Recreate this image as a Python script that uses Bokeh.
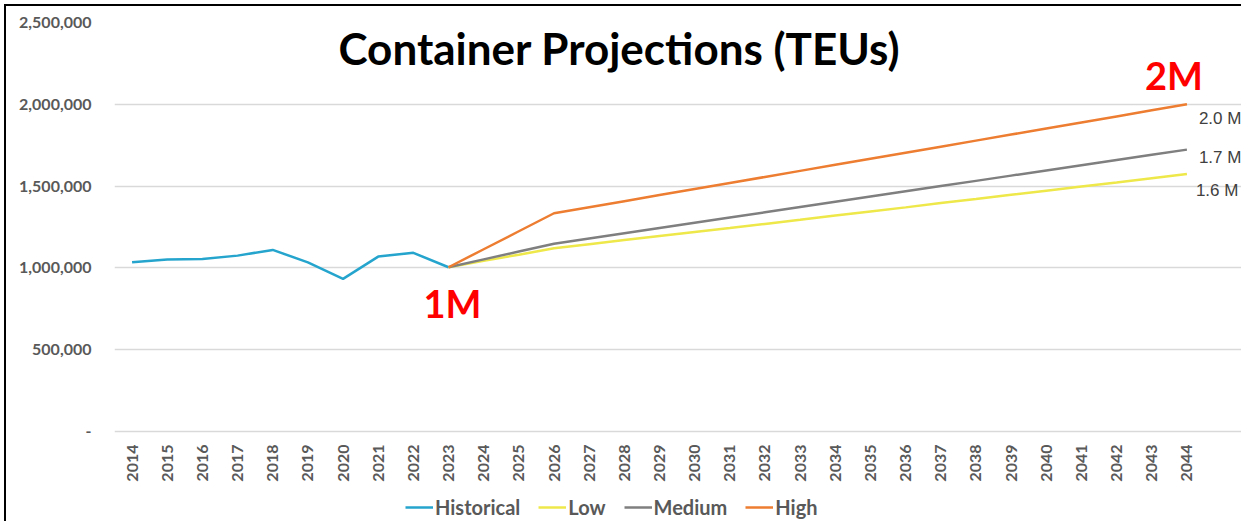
import math
from bokeh.plotting import figure
from bokeh.models import (Range1d, FixedTicker, CustomJSTickFormatter, Legend,
                          LegendItem, Label)
from bokeh.embed import file_html
from bokeh.resources import INLINE

# ---------------- data ----------------
hist_years = [2014, 2015, 2016, 2017, 2018, 2019, 2020, 2021, 2022, 2023]
historical = [1034000, 1051000, 1055000, 1075000, 1110000, 1034000, 933000,
              1069000, 1092000, 1004000]

proj_years = [2023, 2024, 2025, 2026, 2027, 2028, 2029, 2030, 2031, 2032, 2033,
              2034, 2035, 2036, 2037, 2038, 2039, 2040, 2041, 2042, 2043, 2044]
low = [1004000, 1043000, 1081000, 1120000, 1145000, 1170000, 1195000, 1220000,
       1244000, 1269000, 1294000, 1320000, 1345000, 1370000, 1396000, 1421000,
       1447000, 1472000, 1497000, 1522000, 1548000, 1574000]
medium = [1004000, 1052000, 1100000, 1148000, 1180000, 1212000, 1244000, 1276000,
          1308000, 1340000, 1372000, 1404000, 1436000, 1468000, 1500000, 1532000,
          1564000, 1596000, 1628000, 1660000, 1692000, 1723000]
high = [1004000, 1114000, 1224000, 1334000, 1371000, 1408000, 1445000, 1482000,
        1519000, 1556000, 1593000, 1630000, 1667000, 1704000, 1741000, 1778000,
        1815000, 1852000, 1889000, 1926000, 1963000, 2000000]

tick_years = list(range(2014, 2045))
y_ticks = [0, 500000, 1000000, 1500000, 2000000, 2500000]

series_names = ["Historical", "Low", "Medium", "High"]
series_colors = ["#25A5CD", "#EEE84A", "#7F7F7F", "#ED7D31"]

title_text = "Container Projections (TEUs)"

# ---------------- figure ----------------
# The frame covers the whole right/bottom area so that the x axis (pinned at
# y = 0), the legend and the end labels all live inside it.
W, H = 1237, 517
X0, X1 = 2013.5, 2044.5          # category band of the year axis
Y0, Y1 = 0, 2500000              # value axis
px_x = (X1 - X0) / 1090.0        # data units per pixel
px_y = (Y1 - Y0) / 409.0
p = figure(width=W, height=H, output_backend="svg", toolbar_location=None,
           x_range=Range1d(X0, X1 + 39 * px_x),
           y_range=Range1d(Y0 - 92 * px_y, Y1),
           min_border_left=108, min_border_right=0,
           min_border_top=16, min_border_bottom=0)
p.background_fill_color = "white"
p.border_fill_color = "white"
p.outline_line_color = None
p.styles = {"margin-left": "4px", "margin-top": "4px",
            "border-left": "2px solid black", "border-top": "2px solid black"}

p.xgrid.grid_line_color = None
p.ygrid.grid_line_color = "#D9D9D9"
p.ygrid.grid_line_width = 1.5
p.ygrid.bounds = (X0, X1)

grey = "#595959"
axis_font = "Lato"

p.xaxis.fixed_location = 0
p.xaxis.ticker = FixedTicker(ticks=tick_years)
p.xaxis.major_label_orientation = math.pi / 2
p.xaxis.axis_line_color = None
p.xaxis.major_tick_line_color = None
p.xaxis.minor_tick_line_color = None
p.xaxis.major_tick_out = 0
p.xaxis.major_label_standoff = 13
p.xaxis.major_label_text_font = axis_font
p.xaxis.major_label_text_font_style = "bold"
p.xaxis.major_label_text_font_size = "16px"
p.xaxis.major_label_text_color = grey

p.yaxis.ticker = FixedTicker(ticks=y_ticks)
p.yaxis.formatter = CustomJSTickFormatter(
    code='return tick == 0 ? "-" : Math.round(tick).toLocaleString("en-US");')
p.yaxis.axis_line_color = None
p.yaxis.major_tick_line_color = None
p.yaxis.minor_tick_line_color = None
p.yaxis.major_tick_out = 0
p.yaxis.major_label_standoff = 23
p.yaxis.major_label_text_font = axis_font
p.yaxis.major_label_text_font_style = "bold"
p.yaxis.major_label_text_font_size = "16px"
p.yaxis.major_label_text_color = grey

# ---------------- lines ----------------
r_hist = p.line(hist_years, historical, line_color=series_colors[0], line_width=2.5)
r_low = p.line(proj_years, low, line_color=series_colors[1], line_width=2.5)
r_med = p.line(proj_years, medium, line_color=series_colors[2], line_width=2.5)
r_high = p.line(proj_years, high, line_color=series_colors[3], line_width=2.5)

# end-of-line data labels
for v, dx, dy in zip((high[-1], medium[-1], low[-1]), (12, 12, 9), (-14, -8, -17)):
    p.add_layout(Label(x=proj_years[-1], y=v, x_offset=dx, y_offset=dy,
                       text=f"{v / 1e6:.1f} M", text_align="left",
                       text_baseline="middle", text_font="Liberation Sans",
                       text_font_size="17px", text_color="#404040"))

# ---------------- annotations ----------------
p.add_layout(Label(x=2027.86, y=2347000, text=title_text, text_align="center",
                   text_baseline="middle", text_font="Lato",
                   text_font_size="44px", text_font_style="bold",
                   text_color="black"))
p.add_layout(Label(x=proj_years[0], y=historical[-1], x_offset=4, y_offset=-36,
                   text="1M", text_align="center", text_baseline="middle",
                   text_font="Lato", text_font_size="38px",
                   text_font_style="bold", text_color="#FF0000"))
p.add_layout(Label(x=proj_years[-1], y=high[-1], x_offset=-13, y_offset=29,
                   text="2M", text_align="center", text_baseline="middle",
                   text_font="Lato", text_font_size="38px",
                   text_font_style="bold", text_color="#FF0000"))

legend = Legend(items=[LegendItem(label=n, renderers=[r])
                       for n, r in zip(series_names, [r_hist, r_low, r_med, r_high])],
                orientation="horizontal", location=(291, 4),
                glyph_width=28, glyph_height=20, label_standoff=2, spacing=18,
                padding=2, margin=0,
                label_text_font="Lato", label_text_font_style="bold",
                label_text_font_size="20px", label_text_color=grey,
                background_fill_alpha=0, border_line_color=None)
p.add_layout(legend, "center")

open("out.html", "w").write(file_html(p, INLINE))
